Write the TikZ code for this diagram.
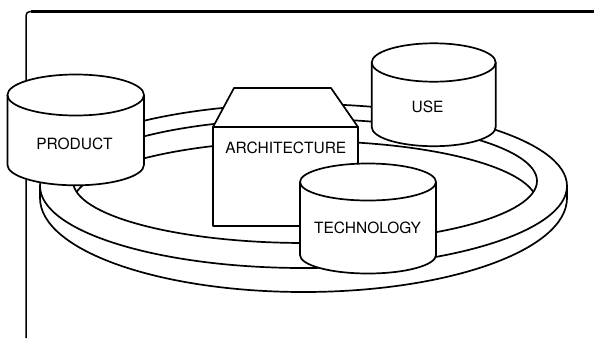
\documentclass[tikz,border=0pt]{standalone}
\usepackage{fontspec}
\setmainfont{TeX Gyre Heros}
% upright drum: centre x, top-ellipse y, bottom-ellipse y, x radius, y radius
% (y values are measured downwards from the top edge)
\newcommand\drum[5]{%
  \fill[white] (#1-#4,-#2) -- (#1-#4,-#3)
     arc[start angle=180,end angle=360,x radius=#4,y radius=#5] -- (#1+#4,-#2)
     arc[start angle=0,end angle=180,x radius=#4,y radius=#5] -- cycle;
  \draw[ink] (#1-#4,-#2) -- (#1-#4,-#3)
     arc[start angle=180,end angle=360,x radius=#4,y radius=#5] -- (#1+#4,-#2);
  \draw[ink] (#1,-#2) ellipse[x radius=#4,y radius=#5];
}
\begin{document}
\begin{tikzpicture}[x=1pt,y=1pt,line join=round,
  ink/.style={line width=1.7pt},
  tag/.style={font=\fontsize{15.5}{18}\selectfont,inner sep=0pt}]
\useasboundingbox (0,0) rectangle (594,-338);
\fill[white] (0,0) rectangle (594,-338);

% frame
\draw[line width=1.5pt,rounded corners=4pt] (26,-338) |- (594,-11.5);
\draw[line width=3pt] (31,-11.5) -- (594,-11.5);

% ring: outer wall, upper rim, hole and its far inner wall
\draw[ink] (40,-186) -- (40,-198)
   arc[start angle=180,end angle=360,x radius=263.5,y radius=94] -- (567,-186);
\draw[ink] (303.5,-186) ellipse[x radius=263.5,y radius=82];
\draw[ink] (305,-181) ellipse[x radius=232,y radius=62];
\begin{scope}
  \clip (305,-181) ellipse[x radius=232,y radius=62];
  \draw[ink] (305,-203) ellipse[x radius=232,y radius=62];
\end{scope}

% USE
\drum{433.7}{62.5}{127}{62}{19.2}
\node[tag] (use) at (427.5,-106.7) {USE};

% ARCHITECTURE block
\filldraw[ink,fill=white] (213,-127) -- (234,-88) -- (331,-88) -- (358,-127) -- cycle;
\filldraw[ink,fill=white] (213,-127) rectangle (358,-226);
\node[tag] (arch) at (285.8,-148.3) {ARCHITECTURE};

% PRODUCT
\drum{75.7}{95}{164.8}{68.3}{20.5}
\node[tag] (product) at (74.5,-143.5) {PRODUCT};

% TECHNOLOGY
\drum{368}{182}{255}{68}{18.5}
\node[tag] (tech) at (367.5,-228) {TECHNOLOGY};
\end{tikzpicture}
\end{document}
